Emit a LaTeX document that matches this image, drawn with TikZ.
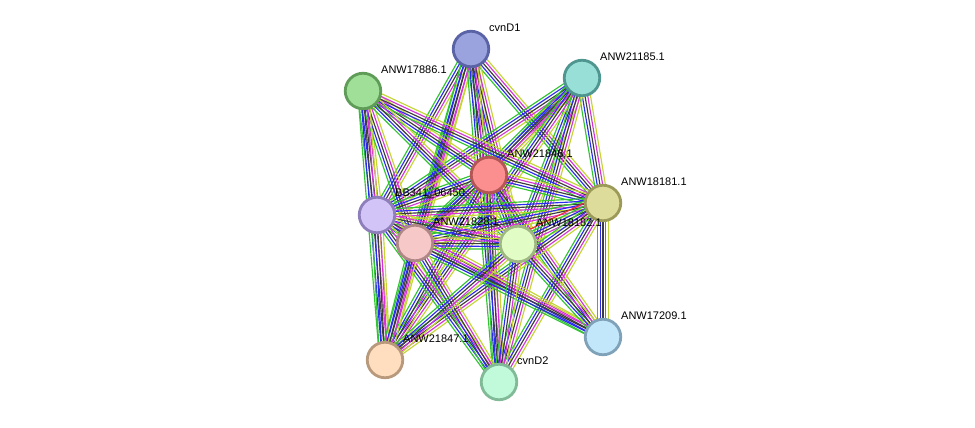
\documentclass[tikz,border=0pt]{standalone}
\usepackage{fontspec}
\setmainfont{Liberation Sans}
\usetikzlibrary{calc}

\definecolor{egreen}{HTML}{33C433}
\definecolor{eblue}{HTML}{2B2BF0}
\definecolor{eblack}{HTML}{3C3C3C}
\definecolor{emagenta}{HTML}{D633D6}
\definecolor{eyellow}{HTML}{C4D633}
\definecolor{ered}{HTML}{F02B2B}

% protein node fills and rims
\definecolor{fA}{HTML}{9AA3DE}\definecolor{bA}{HTML}{5963A6}
\definecolor{fB}{HTML}{98DFD7}\definecolor{bB}{HTML}{4F9690}
\definecolor{fC}{HTML}{9FDF98}\definecolor{bC}{HTML}{5E9C57}
\definecolor{fD}{HTML}{FB8F8F}\definecolor{bD}{HTML}{B45656}
\definecolor{fE}{HTML}{DEDC9A}\definecolor{bE}{HTML}{9C9A58}
\definecolor{fF}{HTML}{D3C4F8}\definecolor{bF}{HTML}{8E7FBB}
\definecolor{fG}{HTML}{F6C8C8}\definecolor{bG}{HTML}{B08787}
\definecolor{fH}{HTML}{E1FCC5}\definecolor{bH}{HTML}{9EB783}
\definecolor{fI}{HTML}{C3E7FA}\definecolor{bI}{HTML}{7FA2B9}
\definecolor{fJ}{HTML}{FFDEBF}\definecolor{bJ}{HTML}{B8997B}
\definecolor{fK}{HTML}{C1FADA}\definecolor{bK}{HTML}{80BA97}

\tikzset{
  protein/.style 2 args={circle, minimum size=35.5pt, inner sep=0pt,
    fill=#1, draw=#2, line width=2.8pt},
  plabel/.style={anchor=west, inner sep=0.6pt, font=\fontsize{11}{13}\selectfont},
  evline/.style={line width=1.15pt}
}

% one interaction: parallel evidence lines between two centres
\newcommand\bundle[2]{%
  \foreach \col/\off in {egreen/-5.4, eblue/-2.7, eblack/0, emagenta/2.7, eyellow/5.4}{%
    \draw[evline, \col] ($(#1)!\off pt!90:(#2)$) -- ($(#2)!\off pt!-90:(#1)$);
  }}

\begin{document}
\begin{tikzpicture}[x=1pt, y=-1pt]
\useasboundingbox (0,0) rectangle (975,428);
\fill[white] (0,0) rectangle (975,428);

% centres
\coordinate (cA) at (471,49);
\coordinate (cB) at (582,78);
\coordinate (cC) at (363,91);
\coordinate (cD) at (489,175);
\coordinate (cE) at (603,203);
\coordinate (cF) at (377,215);
\coordinate (cG) at (415,243);
\coordinate (cH) at (518,244);
\coordinate (cI) at (603,337);
\coordinate (cJ) at (385,360);
\coordinate (cK) at (499,382);

% interactions
\foreach \a/\b in {cA/cD, cA/cE, cA/cF, cA/cG, cA/cH, cA/cJ, cA/cK,
                   cB/cD, cB/cE, cB/cF, cB/cG, cB/cH, cB/cJ, cB/cK,
                   cC/cD, cC/cE, cC/cF, cC/cG, cC/cH, cC/cJ,
                   cD/cE, cD/cF, cD/cG, cD/cH, cD/cI, cD/cJ, cD/cK,
                   cE/cF, cE/cG, cE/cH, cE/cI, cE/cJ, cE/cK,
                   cF/cG, cF/cH, cF/cI, cF/cJ, cF/cK,
                   cG/cH, cG/cI, cG/cJ, cG/cK,
                   cH/cI, cH/cJ, cH/cK}{\bundle{\a}{\b}}
\draw[evline, ered] ($(cH)!8.1pt!90:(cE)$) -- ($(cE)!8.1pt!-90:(cH)$);

% proteins
\node[protein={fA}{bA}] (cvnD1) at (cA) {};
\node[protein={fB}{bB}] (anw21185) at (cB) {};
\node[protein={fC}{bC}] (anw17886) at (cC) {};
\node[protein={fD}{bD}] (anw21846) at (cD) {};
\node[protein={fE}{bE}] (anw18181) at (cE) {};
\node[protein={fF}{bF}] (bb341) at (cF) {};
\node[protein={fG}{bG}] (anw21828) at (cG) {};
\node[protein={fH}{bH}] (anw18182) at (cH) {};
\node[protein={fI}{bI}] (anw17209) at (cI) {};
\node[protein={fJ}{bJ}] (anw21847) at (cJ) {};
\node[protein={fK}{bK}] (cvnD2) at (cK) {};

% names
\foreach \n/\t in {cA/cvnD1, cB/ANW21185.1, cC/ANW17886.1, cD/ANW21846.1,
                   cE/ANW18181.1, cF/BB341\_06450, cG/ANW21828.1, cH/ANW18182.1,
                   cI/ANW17209.1, cJ/ANW21847.1, cK/cvnD2}{
  \node[plabel] (l\n) at ($(\n)+(17.4,-21)$) {\t};
}
\end{tikzpicture}
\end{document}
